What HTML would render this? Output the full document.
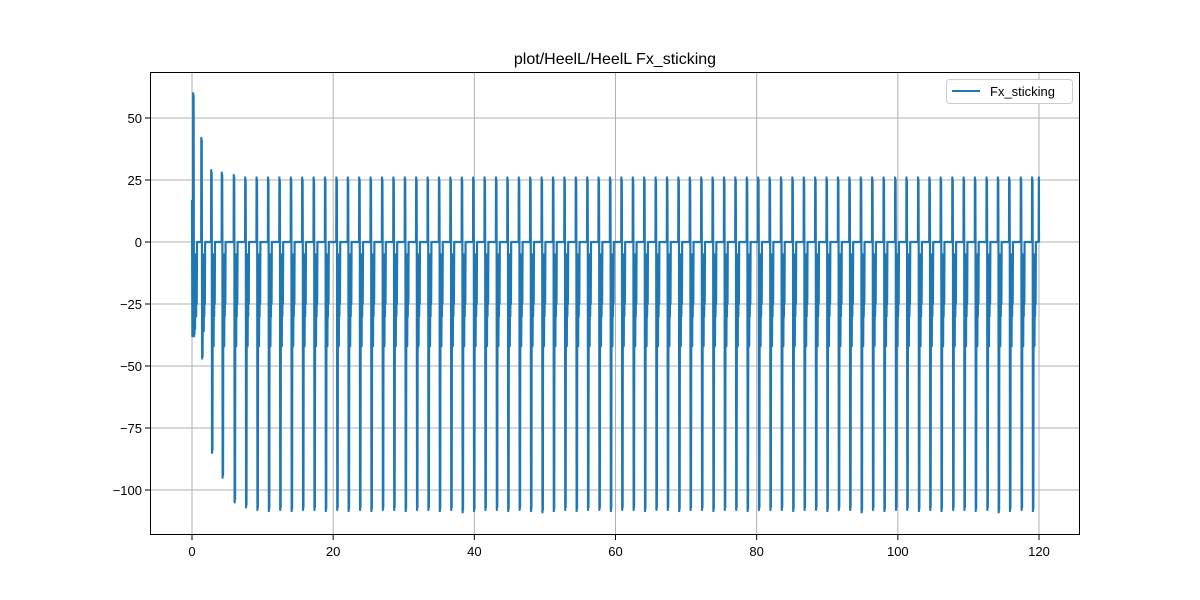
<!DOCTYPE html>
<html><head><meta charset="utf-8"><style>
body{margin:0;background:#fff}
svg{display:block;font-family:"Liberation Sans","DejaVu Sans",sans-serif}
</style></head><body>
<svg id="chart" width="1200" height="600">
<rect width="1200" height="600" fill="#fff"/>
<g id="grid"></g>
<g id="ticks"></g>
<path id="series" fill="none" stroke="#1f77b4" stroke-width="2.2" stroke-linejoin="round"/>
<rect x="150.5" y="72.5" width="929" height="462" fill="none" stroke="#000" stroke-width="1"/>
<text x="615" y="64" text-anchor="middle" font-size="16">plot/HeelL/HeelL Fx_sticking</text>
<g>
<rect x="946.5" y="79.5" width="126" height="24" rx="3" fill="#fff" stroke="#ccc"/>
<line x1="952" y1="91" x2="980" y2="91" stroke="#1f77b4" stroke-width="2"/>
<text x="990" y="96" font-size="13">Fx_sticking</text>
</g>
</svg>
<script>
const xTicks=[0,20,40,60,80,100,120];
const yTicks=[50,25,0,-25,-50,-75,-100];
const cycleTimes=[0.15,1.3,2.7,4.2,5.9,7.52,9.13,10.75,12.36,13.98,15.59,17.21,18.82,20.44,22.05,23.67,25.28,26.9,28.51,30.13,31.74,33.36,34.97,36.59,38.2,39.82,41.43,43.05,44.66,46.28,47.89,49.51,51.12,52.74,54.35,55.97,57.58,59.2,60.81,62.43,64.04,65.66,67.27,68.89,70.5,72.12,73.73,75.35,76.96,78.58,80.19,81.81,83.42,85.04,86.65,88.27,89.88,91.5,93.11,94.73,96.34,97.96,99.6,101.2,102.85,104.45,106.05,107.7,109.3,110.9,112.55,114.15,115.75,117.4,119.0];
const peakVals=[60,42,29,28,27,26,26,26,26,26,26,26,26,26,26,26,26,26,26,26,26,26,26,26,26,26,26,26,26,26,26,26,26,26,26,26,26,26,26,26,26,26,26,26,26,26,26,26,26,26,26,26,26,26,26,26,26,26,26,26,26,26,26,26,26,26,26,26,26,26,26,26,26,26,26];
const troughVals=[-38,-47,-85,-95,-105,-107,-108,-108.5,-108,-108.5,-108,-108,-108.5,-108,-108.5,-108,-108.5,-108,-108,-108.5,-108,-108,-108.5,-108,-109,-108.5,-108,-108,-108.5,-108,-108.5,-109,-108.5,-108,-108.5,-108,-108,-108.5,-108,-108,-108.5,-108,-108,-108.5,-108,-108,-108.5,-108,-108,-108.5,-108,-108,-108,-108.5,-108,-108,-108.5,-108,-108,-109,-108,-108.5,-108,-108,-108.5,-108,-108.5,-108,-108,-108.5,-108,-109,-108.5,-108,-108.5];
const midVals=[-20,-36,-42,-42,-42,-42,-42,-42,-42,-42,-42,-42,-42,-42,-42,-42,-42,-42,-42,-42,-42,-42,-42,-42,-42,-42,-42,-42,-42,-42,-42,-42,-42,-42,-42,-42,-42,-42,-42,-42,-42,-42,-42,-42,-42,-42,-42,-42,-42,-42,-42,-42,-42,-42,-42,-42,-42,-42,-42,-42,-42,-42,-42,-42,-42,-42,-42,-42,-42,-42,-42,-42,-42,-42,-42];
const X=v=>192+v*(1039-192)/120;
const Y=v=>242-v*2.48;
const NS='http://www.w3.org/2000/svg';
const grid=document.getElementById('grid'),ticks=document.getElementById('ticks');
function mk(tag,attrs,parent){const e=document.createElementNS(NS,tag);for(const k in attrs)e.setAttribute(k,attrs[k]);parent.appendChild(e);return e;}
xTicks.forEach(t=>{
 const g=mk('line',{x1:X(t),x2:X(t),y1:72,y2:535,stroke:'#b0b0b0','stroke-width':1},grid);
 
 
 mk('line',{x1:X(t),x2:X(t),y1:535,y2:540,stroke:'#000'},ticks);
 const l=mk('text',{x:X(t),y:556,'text-anchor':'middle','font-size':13},ticks);
 
 
 l.textContent=t;
});
yTicks.forEach(t=>{
 const g=mk('line',{x1:150,x2:1080,y1:Y(t),y2:Y(t),stroke:'#b0b0b0','stroke-width':1},grid);
 
 
 mk('line',{x1:145,x2:150,y1:Y(t),y2:Y(t),stroke:'#000'},ticks);
 const l=mk('text',{x:142,y:Y(t)+5,'text-anchor':'end','font-size':13},ticks);
 
 
 l.textContent=t<0?'\u2212'+(-t):t;
});
let pts=[[0,17],[0.05,-38],[0.1,0]];
cycleTimes.forEach((t,i)=>{
 pts.push([t,0],[t+0.02,peakVals[i]],[t+0.05,0],[t+0.08,peakVals[i]-1],[t+0.11,-5],[t+0.14,troughVals[i]],[t+0.17,-10],[t+0.2,troughVals[i]+1],
  [t+0.24,-5],[t+0.28,-35],[t+0.32,-8],[t+0.36,midVals[i]],[t+0.4,-15],[t+0.44,-30],[t+0.48,-5],[t+0.52,-25],[t+0.56,0]);
});
pts.push([119.95,0],[119.98,26],[120,0]);
document.getElementById('series').setAttribute('d',pts.map((p,i)=>(i?'L':'M')+X(p[0]).toFixed(2)+','+Y(p[1]).toFixed(2)).join(''));
</script>
</body></html>
